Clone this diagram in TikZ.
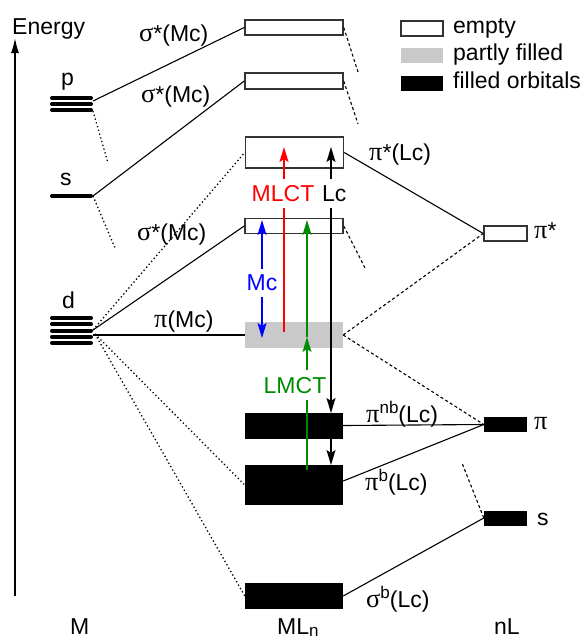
\documentclass[tikz,border=0pt]{standalone}
\usepackage{fontspec}
\setmainfont{Liberation Sans}
\newfontfamily\grk[Scale=1.15]{Liberation Serif}
\usetikzlibrary{arrows.meta}
% Greek letters, superscripts and subscripts
\newcommand\gk[1]{{\grk #1}}
\newcommand\up[1]{\raisebox{9pt}{\fontsize{17}{17}\selectfont #1}}
\newcommand\dn[1]{\raisebox{-2pt}{\fontsize{17}{17}\selectfont #1}}
\begin{document}
\begin{tikzpicture}[x=1pt,y=-1pt,
  font=\fontsize{23}{27}\selectfont,
  lbl/.style={anchor=base west, inner sep=0pt},
  orb/.style={rectangle, inner sep=0pt, minimum width=98pt},
  emptybox/.style={orb, draw=black!80, line width=1.5pt, fill=white},
  partbox/.style={orb, fill=gray!42},
  fullbox/.style={orb, fill=black},
  nlbox/.style={minimum width=43pt, minimum height=15pt},
  level/.style={line width=4pt, line cap=round},
  conn/.style={line width=1.1pt},
  ldot/.style={line width=1.3pt, dash pattern=on 1.3pt off 2.6pt},
  rdash/.style={line width=1.1pt, dash pattern=on 3pt off 2.5pt},
  tip/.style={-{Stealth[length=15pt,width=9pt,inset=3pt]}, line width=1.4pt}
]
\useasboundingbox (0,0) rectangle (585,640);

% energy axis
\coordinate (axB) at (15,596);
\coordinate (axT) at (15,38);
\draw[line width=1.5pt, -{Latex[length=15pt,width=8pt]}] (axB) -- (axT);
\node[lbl] (energy) at (12,34) {Energy};

% metal levels
\foreach \yy in {98,104,110} \draw[level] (52,\yy) -- (91,\yy);
\foreach \yy in {196} \draw[level] (52,\yy) -- (91,\yy);
\foreach \yy in {318,324.25,330.5,336.75,343} \draw[level] (52,\yy) -- (91,\yy);
\node[lbl] (plab) at (61,85) {p};
\node[lbl] (slab) at (60,185) {s};
\node[lbl] (dlab) at (62,308) {d};
\coordinate (pR) at (93,101);
\coordinate (pRd) at (93,111);
\coordinate (sR) at (93,196);
\coordinate (dR) at (93,330);
\coordinate (dRh) at (93,335);
\coordinate (dRd) at (95,334);

% complex orbitals
\node[emptybox, minimum height=15pt] (sA) at (294,27.5) {};
\node[emptybox, minimum height=16pt] (sB) at (294,81) {};
\node[emptybox, minimum height=31pt] (piLc) at (294.5,152.5) {};
\node[emptybox, minimum height=15pt] (sC) at (294,226) {};
\node[partbox, minimum height=26pt] (piMc) at (294,335) {};
\node[fullbox, minimum height=26pt] (pinb) at (294,425.5) {};
\node[fullbox, minimum height=40pt] (pib) at (294,485) {};
\node[fullbox, minimum height=26pt] (sigb) at (294,596) {};

% ligand orbitals
\node[emptybox, nlbox] (nLpistar) at (505.5,233.5) {};
\node[fullbox, nlbox] (nLpi) at (505.5,424.5) {};
\node[fullbox, nlbox] (nLs) at (505.5,518) {};

% legend
\node[emptybox, minimum width=42pt, minimum height=15pt] (lgE) at (422,28.5) {};
\node[partbox, minimum width=42pt, minimum height=15pt] (lgP) at (422,55.5) {};
\node[fullbox, minimum width=42pt, minimum height=15pt] (lgF) at (422,83) {};
\node[lbl] (lgEt) at (453,33) {empty};
\node[lbl] (lgPt) at (453,60) {partly filled};
\node[lbl] (lgFt) at (453,88) {filled orbitals};

% orbital labels
\node[lbl] (tA) at (139,41) {\gk{σ}*(Mc)};
\node[lbl] (tB) at (141,102) {\gk{σ}*(Mc)};
\node[lbl] (tC) at (137,240) {\gk{σ}*(Mc)};
\node[lbl] (tPiMc) at (154,327) {\gk{π}(Mc)};
\node[lbl] (tPiLc) at (369,160) {\gk{π}*(Lc)};
\node[lbl] (tPinb) at (366,422) {\gk{π}\up{nb}(Lc)};
\node[lbl] (tPib) at (365,490) {\gk{π}\up{b}(Lc)};
\node[lbl] (tSigb) at (366,607) {\gk{σ}\up{b}(Lc)};
\node[lbl] (tnPistar) at (534,238) {\gk{π}*};
\node[lbl] (tnPi) at (534,429) {\gk{π}};
\node[lbl] (tnS) at (537,525) {s};
\node[lbl] (tM) at (70,634) {M};
\node[lbl] (tML) at (277,634) {ML\dn{n}};
\node[lbl] (tnL) at (494,634) {nL};

% solid correlation lines
\draw[conn] (pR) -- (sA.west);
\draw[conn] (sR) -- (sB.west);
\draw[conn] (dR) -- (sC.west);
\draw[conn] (dRh) -- (piMc.west);
\draw[conn] (piLc.east) -- (nLpistar.west);
\draw[conn] (pinb.east) -- (nLpi.west);
\draw[conn] ([yshift=4pt]pib.east) -- (nLpi.west);
\draw[conn] (sigb.east) -- (nLs.west);

% dotted metal-side lines
\coordinate (pEnd) at (108,163);
\coordinate (sEnd) at (115,248);
\draw[ldot] (pRd) -- (pEnd);
\draw[ldot] (sR) -- (sEnd);
\draw[ldot] (dR) -- (piLc.west);
\draw[ldot] (dRd) -- (pib.west);
\draw[ldot] (dRd) -- (sigb.west);

% dashed ligand-side lines
\coordinate (aEnd) at (358,72);
\coordinate (bEnd) at (358,124);
\coordinate (cEnd) at (365,268);
\coordinate (nsEnd) at (462,463);
\draw[rdash] (sA.east) -- (aEnd);
\draw[rdash] (sB.east) -- (bEnd);
\draw[rdash] (sC.east) -- (cEnd);
\draw[rdash] (piMc.east) -- (nLpistar.west);
\draw[rdash] (piMc.east) -- (nLpi.west);
\draw[rdash] (nLs.west) -- (nsEnd);

% transitions
\node[lbl, text=red, anchor=base] (mlct) at (283,201) {MLCT};
\node[lbl] (lc) at (322,201) {Lc};
\node[lbl, text=blue, anchor=base] (mc) at (262,290) {Mc};
\node[lbl, text=black!45!green, anchor=base] (lmct) at (295,393) {LMCT};

\coordinate (rA) at (284,332);
\coordinate (rB) at (284,208);
\coordinate (rC) at (284,179);
\coordinate (rD) at (284,147);
\draw[red, line width=1.4pt] (rA) -- (rB);
\draw[red, tip] (rC) -- (rD);

\coordinate (kA) at (331,179);
\coordinate (kB) at (331,147);
\coordinate (kC) at (331,208);
\coordinate (kD) at (331,413);
\coordinate (kE) at (331,438);
\coordinate (kF) at (331,465);
\draw[tip] (kA) -- (kB);
\draw[tip] (kC) -- (kD);
\draw[tip] (kE) -- (kF);

\coordinate (bA) at (262,269);
\coordinate (bB) at (262,220);
\coordinate (bC) at (262,297);
\coordinate (bD) at (262,338);
\draw[blue, tip] (bA) -- (bB);
\draw[blue, tip] (bC) -- (bD);

\coordinate (gA) at (307,470);
\coordinate (gB) at (307,400);
\coordinate (gC) at (307,370);
\coordinate (gD) at (307,337);
\coordinate (gE) at (307,220);
\draw[black!45!green, line width=1.4pt] (gA) -- (gB);
\draw[black!45!green, tip] (gC) -- (gD);
\draw[black!45!green, tip] (gD) -- (gE);
\end{tikzpicture}
\end{document}
